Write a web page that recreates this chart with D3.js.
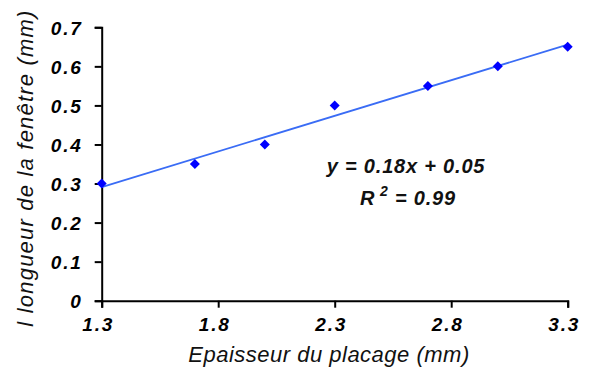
<!DOCTYPE html>
<html><head><meta charset="utf-8">
<script src="https://cdn.jsdelivr.net/npm/d3@7"></script>
<style>
html,body{margin:0;padding:0;background:#fff;}
text{font-family:"Liberation Sans",Arial,sans-serif;}
</style></head>
<body>
<svg id="c" width="593" height="379"></svg>
<script>
const thickness = [1.3, 1.7, 2.0, 2.3, 2.7, 3.0, 3.3];
const windowLength = [0.30, 0.35, 0.40, 0.50, 0.55, 0.60, 0.65];
const xTicks = [1.3, 1.8, 2.3, 2.8, 3.3];
const yTicks = [0, 0.1, 0.2, 0.3, 0.4, 0.5, 0.6, 0.7];
const equationText = "y = 0.18x + 0.05";
const r2Value = "= 0.99";
const xTitle = "Epaisseur du placage (mm)";
const yTitle = "l longueur de la fenêtre (mm)";

const svg = d3.select("#c");
const x = d3.scaleLinear().domain([1.3, 3.3]).range([101.7, 567.7]);
const y = d3.scaleLinear().domain([0, 0.7]).range([300.7, 27.3]);

// axes
const xAxis = svg.append("g").attr("transform", `translate(0,${y(0)})`)
  .call(d3.axisBottom(x).tickValues(xTicks).tickSize(7).tickPadding(10).tickFormat(d3.format(".1f")));
const yAxis = svg.append("g").attr("transform", `translate(${x(1.3)},0)`)
  .call(d3.axisLeft(y).tickValues(yTicks).tickSize(7).tickPadding(12).tickFormat(d => d === 0 ? "0" : d3.format(".1f")(d)));
[xAxis, yAxis].forEach(g => {
  g.select(".domain").attr("stroke", "#000").attr("stroke-width", 2);
  g.selectAll(".tick line").attr("stroke", "#000").attr("stroke-width", 2);
  g.selectAll(".tick text").attr("fill", "#000").style("font-size", "19px")
    .style("font-weight", "bold").style("font-style", "italic")
    .style("font-family", "'Liberation Sans', Arial, sans-serif").attr("letter-spacing", "1.8");
});
xAxis.selectAll(".tick text").attr("dx", -4);
yAxis.selectAll(".tick text").attr("dy", "0.38em");

// regression trendline
const n = thickness.length;
const mx = d3.mean(thickness), my = d3.mean(windowLength);
let sxy = 0, sxx = 0;
for (let i = 0; i < n; i++) { sxy += (thickness[i]-mx)*(windowLength[i]-my); sxx += (thickness[i]-mx)**2; }
const slope = sxy / sxx, intercept = my - slope * mx;
const x0 = d3.min(thickness), x1 = d3.max(thickness);
svg.append("line")
  .attr("x1", x(x0)).attr("y1", y(intercept + slope * x0))
  .attr("x2", x(x1)).attr("y2", y(intercept + slope * x1))
  .attr("stroke", "#3a6cf5").attr("stroke-width", 1.8);

// markers
svg.append("g").selectAll("path").data(thickness).join("path")
  .attr("d", d3.symbol(d3.symbolSquare, 50))
  .attr("transform", (d, i) => `translate(${x(d)},${y(windowLength[i])}) rotate(45)`)
  .attr("fill", "#0000ff");

// equation
const eq = svg.append("g").style("font-weight", "bold").style("font-style", "italic").attr("fill", "#111");
eq.append("text").attr("x", 406).attr("y", 173).attr("text-anchor", "middle")
  .style("font-size", "20px").attr("letter-spacing", "0.8").text(equationText);
const r2 = eq.append("text").attr("x", 408).attr("y", 205).attr("text-anchor", "middle")
  .style("font-size", "20px").attr("letter-spacing", "0.8");
r2.append("tspan").text("R");
r2.append("tspan").attr("dy", -9).style("font-size", "14px").text(" 2");
r2.append("tspan").attr("dy", 9).text(" " + r2Value);

// titles
svg.append("text").attr("x", 329).attr("y", 362).attr("text-anchor", "middle")
  .style("font-size", "22px").style("font-style", "italic").attr("letter-spacing", "0.5")
  .attr("fill", "#111").text(xTitle);
svg.append("text").attr("transform", "translate(33,168) rotate(-90)").attr("text-anchor", "middle")
  .style("font-size", "22px").style("font-style", "italic").attr("letter-spacing", "1.2")
  .attr("fill", "#111").text(yTitle);
</script>
</body></html>
